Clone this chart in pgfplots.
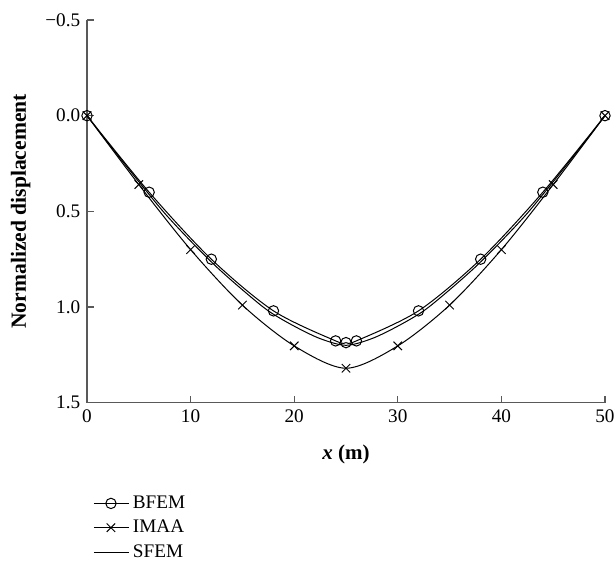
\documentclass[border=0pt]{standalone}
\usepackage{fontspec}
\setmainfont{Liberation Serif}
\usepackage{pgfplots}
\pgfplotsset{compat=1.18}
\pgfplotstableread{
x y
0 0
6 0.40
12 0.75
18 1.02
24 1.177
25 1.186
26 1.177
32 1.02
38 0.75
44 0.40
50 0
}\bfem
\pgfplotstableread{
x y
0 0
5 0.36
10 0.70
15 0.99
20 1.203
25 1.32
30 1.203
35 0.99
40 0.70
45 0.36
50 0
}\imaa
\pgfplotstableread{
x y
0 0
2.5 0.175
5 0.345
7.5 0.51
10 0.655
12.5 0.79
15 0.91
17.5 1.02
20 1.10
22.5 1.165
25 1.20
27.5 1.165
30 1.10
32.5 1.02
35 0.91
37.5 0.79
40 0.655
42.5 0.51
45 0.345
47.5 0.175
50 0
}\sfem
\begin{document}
\fontsize{9.6}{11.5}\selectfont
\begin{tikzpicture}
\begin{axis}[
 at={(0,0)}, anchor=south west, scale only axis,
 width=259pt, height=191.35pt,
 xmin=0, xmax=50, ymin=-0.5, ymax=1.5, y dir=reverse,
 axis x line=bottom, axis y line=left,
 axis line style={-, draw=black!65, line width=0.6pt},
 tick style={draw=black!65, line width=0.6pt},
 tick align=inside, major tick length=3.5pt,
 xtick={0,10,20,30,40,50}, xticklabels={0,10,20,30,40,50},
 ytick={-0.5,0,0.5,1,1.5}, yticklabels={−0.5,0.0,0.5,1.0,1.5},
 xlabel={\textbf{\textit{x} (m)}},
 ylabel={\textbf{Normalized displacement}},
 every axis x label/.style={at={(axis description cs:0.5,-0.135)}, anchor=center, font=\fontsize{10.5}{12}\selectfont},
 every axis y label/.style={at={(axis description cs:-0.128,0.5)}, rotate=90, anchor=center, font=\fontsize{10.8}{12}\selectfont},
 legend style={at={(axis description cs:0,-0.22)}, anchor=north west, draw=none, fill=none, nodes={inner sep=2.2pt}},
 legend cell align=left,
 clip=false,
]
\addplot[black, line width=0.5pt, smooth, mark=o, mark size=2.6pt, mark options={line width=0.5pt}] table {\bfem};
\addlegendentry{BFEM}
\addplot[black, line width=0.5pt, smooth, mark=x, mark size=3pt, mark options={line width=0.5pt}] table {\imaa};
\addlegendentry{IMAA}
\addplot[black, line width=0.5pt, smooth] table {\sfem};
\addlegendentry{SFEM}
\end{axis}
\pgfresetboundingbox
\path[use as bounding box] (-43.5pt,-79.15pt) rectangle (264pt,201.35pt);
\end{tikzpicture}
\end{document}
